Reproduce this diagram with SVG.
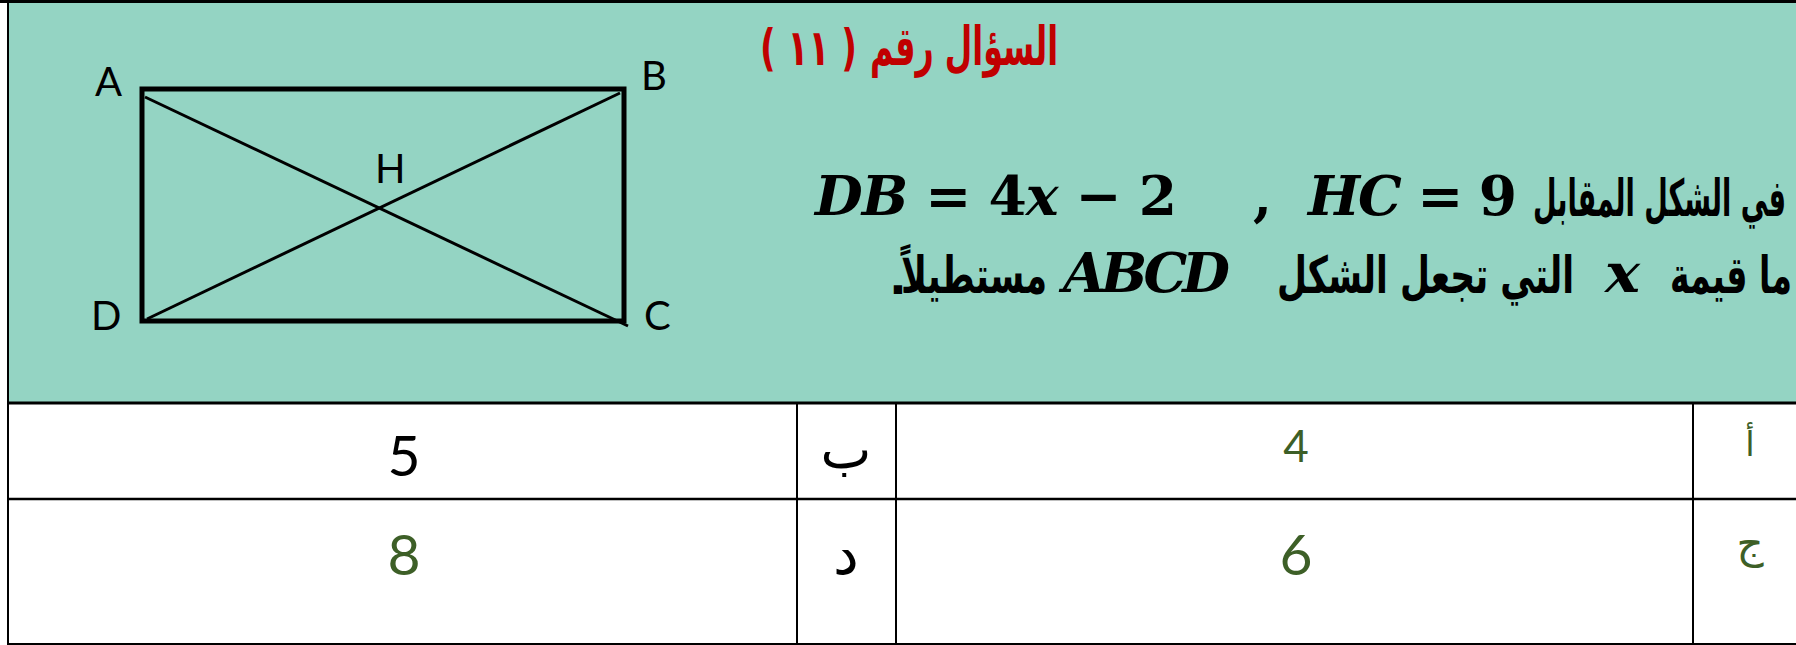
<svg xmlns="http://www.w3.org/2000/svg" width="1796" height="645" viewBox="0 0 1796 645">
<style>
.lbl{font-family:Lato,"Open Sans","DejaVu Sans",sans-serif;font-size:40px;fill:#000}
.ar{font-family:"DejaVu Sans",sans-serif;font-weight:bold;fill:#000}
.math{font-family:"DejaVu Serif",serif;font-weight:bold;font-size:55px;fill:#000}
.it{font-style:italic}
.red{fill:#C00000}
.cell{font-family:Lato,"Open Sans",sans-serif;text-anchor:middle}
.arcell{font-family:"DejaVu Sans",sans-serif;text-anchor:middle}
.g{fill:#3D5F27}
.k{fill:#000}
.grid{stroke:#000;stroke-width:2;fill:none}
</style>
<rect x="0" y="0" width="1796" height="645" fill="#FFFFFF"/>
<rect x="8" y="2" width="1788" height="401" fill="#94D4C3"/>
<g id="borders" class="grid">
<line x1="0" y1="1.5" x2="1796" y2="1.5" stroke-width="3"/>
<line x1="8" y1="0" x2="8" y2="645"/>
<line x1="8" y1="403" x2="1796" y2="403" stroke-width="3"/>
<line x1="8" y1="499" x2="1796" y2="499" stroke-width="2.5"/>
<line x1="8" y1="644" x2="1796" y2="644"/>
<line x1="797" y1="403" x2="797" y2="645"/>
<line x1="896" y1="403" x2="896" y2="645"/>
<line x1="1693" y1="403" x2="1693" y2="645"/>
</g>
<g id="figure">
<rect x="142" y="89" width="482" height="232" fill="none" stroke="#000" stroke-width="5"/>
<g id="connectors" stroke="#000" stroke-width="3">
<line x1="145" y1="97" x2="628" y2="326"/>
<line x1="620" y1="93" x2="147" y2="319"/>
</g>
<text class="lbl" x="95" y="96">A</text>
<text class="lbl" x="641" y="90">B</text>
<text class="lbl" x="375" y="183">H</text>
<text class="lbl" x="91" y="330">D</text>
<text class="lbl" x="644" y="330">C</text>
</g>
<g id="title">
<text class="ar red" x="870" y="65" font-size="54" textLength="188" lengthAdjust="spacingAndGlyphs">السؤال رقم</text>
<text class="red" x="760" y="65" font-family="DejaVu Sans,sans-serif" font-weight="bold" font-size="50" textLength="97" lengthAdjust="spacingAndGlyphs">( ١١ )</text>
</g>
<g id="question">
<text class="math" x="815" y="215" textLength="362" lengthAdjust="spacing"><tspan class="it">DB</tspan> = 4<tspan class="it">x</tspan> − 2</text>
<text class="math" x="1253" y="215">,</text>
<text class="math" x="1308" y="215" textLength="209" lengthAdjust="spacing"><tspan class="it">HC</tspan> = 9</text>
<text class="ar" x="1533" y="216" font-size="51" textLength="253" lengthAdjust="spacingAndGlyphs">في الشكل المقابل</text>
<text class="ar" x="1670" y="293" font-size="51" textLength="122" lengthAdjust="spacingAndGlyphs">ما قيمة</text>
<text class="math it" x="1605" y="292" textLength="35" lengthAdjust="spacingAndGlyphs">x</text>
<text class="ar" x="1277" y="293" font-size="51" textLength="297" lengthAdjust="spacingAndGlyphs">التي تجعل الشكل</text>
<text class="math it" x="1063" y="292" textLength="167" lengthAdjust="spacing">ABCD</text>
<text class="ar" x="901" y="293" font-size="51" textLength="146" lengthAdjust="spacingAndGlyphs">مستطيلاً</text>
<text class="ar" x="889" y="294" font-size="47">.</text>
</g>
<g id="row1">
<text class="cell k" x="404" y="476" font-size="57">5</text>
<text class="arcell k" x="846" y="468" font-size="54">ب</text>
<text class="cell g" x="1296" y="462" font-size="44">4</text>
<text class="arcell g" x="1750" y="456" font-size="34">أ</text>
</g>
<g id="row2">
<text class="cell g" x="404" y="575" font-size="57">8</text>
<text class="arcell k" x="846" y="574" font-size="58">د</text>
<text class="cell g" x="1296" y="575" font-size="57">6</text>
<text class="arcell g" x="1750" y="558" font-size="42">ج</text>
</g>
</svg>
